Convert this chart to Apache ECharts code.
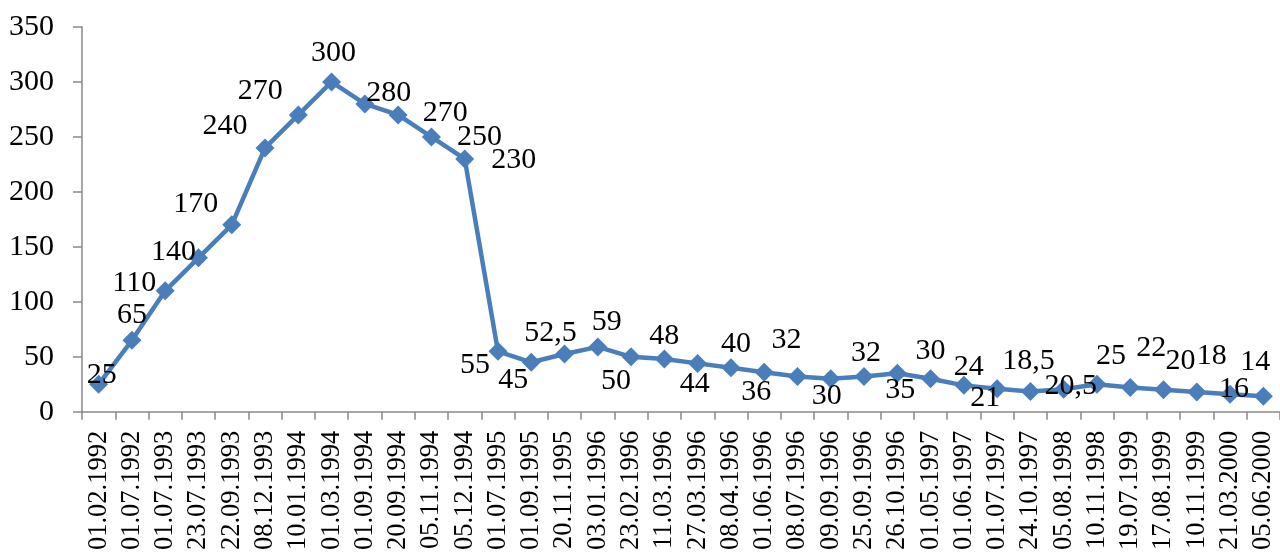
<!DOCTYPE html>
<html>
<head>
<meta charset="utf-8">
<script src="https://cdn.jsdelivr.net/npm/echarts@6/dist/echarts.min.js"></script>
<style>
  html, body { margin: 0; padding: 0; background: #ffffff; }
  #chart { width: 1280px; height: 553px; }
</style>
</head>
<body>
<div id="chart"></div>
<script>
// Dates of observations
const dates = [
  '01.02.1992', '01.07.1992', '01.07.1993', '23.07.1993', '22.09.1993', '08.12.1993',
  '10.01.1994', '01.03.1994', '01.09.1994', '20.09.1994', '05.11.1994', '05.12.1994',
  '01.07.1995', '01.09.1995', '20.11.1995', '03.01.1996', '23.02.1996', '11.03.1996',
  '27.03.1996', '08.04.1996', '01.06.1996', '08.07.1996', '09.09.1996', '25.09.1996',
  '26.10.1996', '01.05.1997', '01.06.1997', '01.07.1997', '24.10.1997', '05.08.1998',
  '10.11.1998', '19.07.1999', '17.08.1999', '10.11.1999', '21.03.2000', '05.06.2000'
];

// Values at each date
const values = [
  25, 65, 110, 140, 170, 240,
  270, 300, 280, 270, 250, 230,
  55, 45, 52.5, 59, 50, 48,
  44, 40, 36, 32, 30, 32,
  35, 30, 24, 21, 18.5, 20.5,
  25, 22, 20, 18, 16, 14
];

// Y axis ticks
const yTicks = { min: 0, max: 350, interval: 50 };

// Label placement relative to each point (dx, dy)
const labelShift = [
  [3, -9], [0, -25], [-31, -8], [-25, -6], [-36, -21], [-40, -22],
  [-38, -24], [2, -29], [24, -11], [47, -2], [48, 0], [49, 1],
  [-23, 14], [-18, 18], [-14, -21], [9, -25], [-15, 24], [0, -23],
  [-3, 21], [5, -24], [-8, 20], [-11, -36], [-4, 17], [2, -23],
  [3, 17], [0, -28], [5, -18], [-12, 9], [-2, -30], [7, -3],
  [14, -28], [21, -39], [17, -29], [15, -36], [4, -5], [-8, -34]
];

const font = '"Liberation Serif", "Times New Roman", serif';
const axisGray = '#898989';
const lineBlue = '#4a7ebb';

const seriesData = values.map((v, i) => ({
  value: v,
  label: { offset: labelShift[i] }
}));

const chart = echarts.init(document.getElementById('chart'));
chart.setOption({
  backgroundColor: '#ffffff',
  animation: false,
  grid: { left: 82, top: 27, width: 1199, height: 386, containLabel: false },
  xAxis: {
    type: 'category',
    data: dates,
    boundaryGap: true,
    axisLine: { show: true, lineStyle: { color: axisGray, width: 1.5 } },
    axisTick: { show: true, length: 8, alignWithLabel: false, lineStyle: { color: axisGray, width: 1.5 } },
    axisLabel: {
      rotate: 90,
      interval: 0,
      margin: 19,
      color: '#000000',
      fontFamily: font,
      fontSize: 26.5
    },
    splitLine: { show: false }
  },
  yAxis: {
    type: 'value',
    min: yTicks.min,
    max: yTicks.max,
    interval: yTicks.interval,
    axisLine: { show: true, lineStyle: { color: axisGray, width: 1.5 } },
    axisTick: { show: true, length: 9, lineStyle: { color: axisGray, width: 1.5 } },
    axisLabel: {
      margin: 28,
      color: '#000000',
      fontFamily: font,
      fontSize: 30
    },
    splitLine: { show: false }
  },
  series: [{
    type: 'line',
    data: seriesData,
    symbol: 'diamond',
    symbolSize: 19,
    showAllSymbol: true,
    lineStyle: { color: lineBlue, width: 4.5 },
    itemStyle: { color: lineBlue },
    label: {
      show: true,
      position: 'inside',
      align: 'center',
      verticalAlign: 'middle',
      color: '#000000',
      fontFamily: font,
      fontSize: 30,
      formatter: p => String(p.value).replace('.', ',')
    },
    z: 3
  }]
});
</script>
</body>
</html>
